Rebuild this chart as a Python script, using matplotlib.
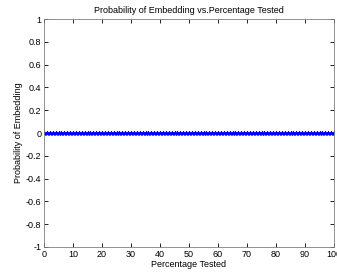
import numpy as np
import matplotlib
matplotlib.use('Agg')
import matplotlib.pyplot as plt

# data
percentage = list(range(0, 101))
probability = [0.0] * len(percentage)

plt.rcParams['font.family'] = ['Liberation Sans', 'DejaVu Sans']

fig = plt.figure(figsize=(3.37, 2.74), dpi=100)
ax = fig.add_axes([44 / 337, 1 - 247 / 274, 290 / 337, 228 / 274])

ax.plot(percentage, probability, color='#0000ff', linewidth=0.8,
        marker='*', markersize=3.5, markeredgewidth=0.6)

ax.set_xlim(0, 100)
ax.set_ylim(-1, 1)
ax.set_xticks(np.arange(0, 101, 10))
ax.set_yticks(np.arange(-1, 1.01, 0.2))
ax.set_yticklabels(['-1', '-0.8', '-0.6', '-0.4', '-0.2', '0',
                    '0.2', '0.4', '0.6', '0.8', '1'])
ax.tick_params(direction='in', length=3, width=0.6, labelsize=6.5,
               top=True, right=True, pad=2, colors='black')
for s in ax.spines.values():
    s.set_linewidth(0.6)
    s.set_color('#808080')

ax.set_title('Probability of Embedding vs.Percentage Tested', fontsize=6.5, pad=4)
ax.set_xlabel('Percentage Tested', fontsize=6.5, labelpad=1)
ax.set_ylabel('Probability of Embedding', fontsize=6.5, labelpad=2)

fig.savefig('out.png', dpi=100)
